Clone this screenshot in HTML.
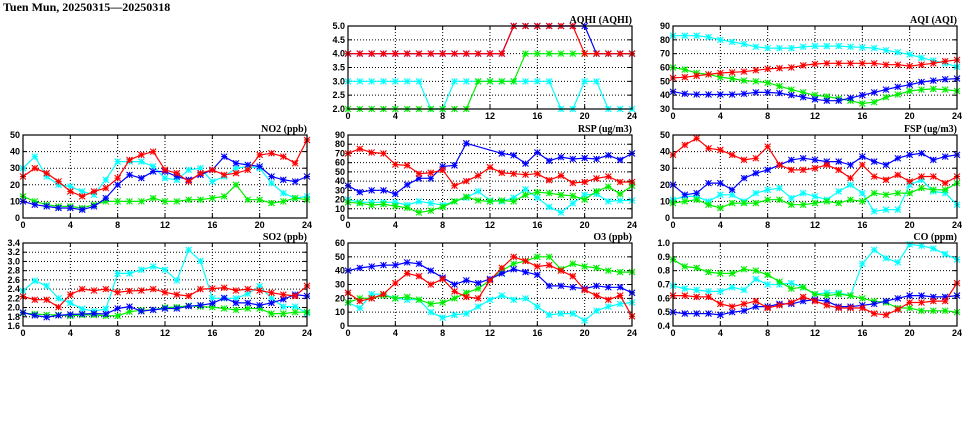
<!DOCTYPE html>
<html><head><meta charset="utf-8">
<style>
body{margin:0;background:#fff;width:975px;height:447px;overflow:hidden}
svg{display:block}
text{font-family:"Liberation Sans",sans-serif;font-weight:bold;font-size:9px;fill:#000}
</style></head>
<body>
<svg id="chart" width="975" height="447">
<text x="3" y="11" style="font-family:'Liberation Serif',serif;font-size:12px;font-weight:bold">Tuen Mun, 20250315—20250318</text>
</svg>
<script>
const hours = [0,1,2,3,4,5,6,7,8,9,10,11,12,13,14,15,16,17,18,19,20,21,22,23,24];
const xTicks = [0,4,8,12,16,20,24];

const aqhiRed   = [4,4,4,4,4,4,4,4,4,4,4,4,4,4,5,5,5,5,5,5,4,4,4,4,4];
const aqhiBlue  = [4,4,4,4,4,4,4,4,4,4,4,4,4,4,5,5,5,5,5,5,5,4,4,4,4];
const aqhiGreen = [2,2,2,2,2,2,2,2,2,2,2,3,3,3,3,4,4,4,4,4,4,4,4,4,4];
const aqhiCyan  = [3,3,3,3,3,3,3,2,2,3,3,3,3,3,3,3,3,3,2,2,3,3,2,2,2];
const aqhiTicks = [2.0,2.5,3.0,3.5,4.0,4.5,5.0];

const aqiCyan  = [83,83,83,82,80,78.5,77,75,74,74,74,75,75.5,75.5,75.5,75,74.5,74,72.5,71,69.5,67,65,63,60.5];
const aqiRed   = [52.5,53,54,55,56,56.5,57,58,59,59.5,60,61.5,62.5,63,63,63,63,63,62,62,61,62,63,64.5,65.5];
const aqiGreen = [60,58.5,56,55,53,52,50.5,50,49,46.5,44,42,40,39,37.5,36,34,35,38.5,40.5,43,44,44.5,44,43];
const aqiBlue  = [42.5,41,40.5,40.5,40.5,40.5,41,42,42,41.5,40,38.5,37,36,36,38,40,42,44,46,47.5,49.5,50.5,51.5,52];
const aqiTicks = [30,40,50,60,70,80,90];

const no2Red   = [25,30,27,22,16,13,16,18,24,35,38,40,29,27,22,27,29,26,27,29,38,39,37,33,47];
const no2Cyan  = [30,37,25,20,19,16,14,23,34,34,34,31,24,23,29,30,22,25,30,31,30,21,15,12,13];
const no2Blue  = [10,8,7,6,6,5,7,12,20,26,24,28,28,25,23,26,29,37,33,32,31,25,23,22,25];
const no2Green = [13,10,8,7,7,6,8,10,10,10,10,12,10,10,11,11,12,13,20,11,11,9,10,12,11];
const no2Ticks = [0,10,20,30,40,50];

const rspRed   = [70,75,71,70,58,57,48,49,52,35,40,46,55,49,48,47,48,41,46,38,39,43,45,39,39];
const rspBlue  = [35,28,30,30,26,36,43,43,56,57,81,null,null,70,68,59,71,62,66,64,65,64,68,63,70];
const rspCyan  = [20,17,17,17,17,14,18,16,14,18,22,29,19,18,22,31,22,12,6,16,25,26,18,19,19];
const rspGreen = [17,16,14,15,13,11,6,8,12,18,23,19,18,19,18,25,28,27,25,24,20,29,34,26,35];
const rspTicks = [0,10,20,30,40,50,60,70,80,90];

const fspRed   = [38,44,48,42,41,38,35,36,43,32,29,29,30,32,29,24,32,25,23,26,22,25,25,21,25];
const fspBlue  = [20,14,15,21,21,17,24,27,29,32,35,36,35,34,34,32,37,34,32,36,38,39,35,37,38];
const fspCyan  = [11,13,13,10,14,14,10,15,17,18,12,15,13,11,16,20,15,4,5,5,20,23,16,15,8];
const fspGreen = [9,10,11,8,6,9,9,9,11,11,8,8,9,10,9,11,10,15,14,15,15,18,17,17,21];
const fspTicks = [0,10,20,30,40,50];

const so2Cyan  = [2.36,2.58,2.47,2.2,2.1,1.97,1.92,1.97,2.74,2.74,2.82,2.89,2.82,2.59,3.25,3.01,2.2,2.2,2.2,2.3,2.46,2.2,2.02,2.02,1.88];
const so2Red   = [2.24,2.17,2.17,2.01,2.28,2.4,2.37,2.4,2.33,2.36,2.37,2.4,2.33,2.28,2.25,2.4,2.41,2.43,2.37,2.4,2.37,2.32,2.28,2.25,2.47];
const so2Blue  = [1.89,1.83,1.79,1.83,1.85,1.86,1.87,1.86,1.98,2.02,1.92,1.95,1.98,1.98,2.03,2.05,2.09,2.21,2.1,2.1,2.05,2.1,2.18,2.28,2.25];
const so2Green = [1.88,1.86,1.84,1.84,1.82,1.84,1.84,1.82,1.82,1.91,1.94,1.95,2.0,2.01,2.04,2.02,2.01,1.98,1.95,1.98,1.98,1.87,1.87,1.9,1.9];
const so2Ticks = [1.6,1.8,2.0,2.2,2.4,2.6,2.8,3.0,3.2,3.4];

const o3Blue  = [40,42,43,44,44,46,45,40,35,30,33,31,34,38,41,39,37,29,29,28,27,29,28,28,24];
const o3Red   = [24,18,20,23,31,38,36,30,34,25,21,20,33,42,50,47,43,44,40,36,26,22,19,22,7];
const o3Green = [17,20,20,22,20,21,19,16,17,20,24,27,33,40,45,47,50,50,41,45,43,42,40,39,39];
const o3Cyan  = [17,13,23,23,20,19,19,10,6,8,9,14,19,22,19,20,14,8,9,9,4,11,14,16,17];
const o3Ticks = [0,10,20,30,40,50,60];

const coCyan  = [.69,.67,.66,.65,.65,.68,.66,.74,.70,.70,.71,.68,.63,.64,.64,.62,.85,.95,.89,.86,.99,.98,.96,.92,.88];
const coGreen = [.88,.83,.82,.79,.78,.78,.81,.80,.77,.72,.67,.68,.63,.62,.63,.62,.60,.58,.57,.53,.53,.51,.51,.51,.50];
const coRed   = [.62,.62,.61,.61,.56,.54,.56,.58,.53,.55,.57,.61,.58,.55,.53,.53,.53,.49,.48,.52,.57,.57,.58,.58,.71];
const coBlue  = [.50,.49,.49,.49,.48,.50,.51,.54,.54,.56,.56,.58,.59,.58,.54,.54,.55,.56,.58,.60,.62,.62,.61,.61,.62];
const coTicks = [0.4,0.5,0.6,0.7,0.8,0.9,1.0];

const svg = document.getElementById('chart');
const NS = 'http://www.w3.org/2000/svg';
function mk(tag, attrs, parent){
  const e = document.createElementNS(NS, tag);
  for (const k in attrs) e.setAttribute(k, attrs[k]);
  (parent||svg).appendChild(e);
  return e;
}
const COL = {red:'#ff0000', blue:'#0000ff', green:'#00ee00', cyan:'#00ffff'};

function panel(key, title, x0, y0, x1, y1, ticks, dec, series){
  const g = mk('g', {});
  
  
  const ymin = ticks[0], ymax = ticks[ticks.length-1];
  const sx = v => x0 + (v - 0) / 24 * (x1 - x0);
  const sy = v => y1 - (v - ymin) / (ymax - ymin) * (y1 - y0);
  ticks.forEach((t,i) => {
    const y = sy(t);
    if (i>0 && i<ticks.length-1){
      const l = mk('line', {x1:x0, x2:x1, y1:y, y2:y, stroke:'#000', 'stroke-width':1, 'stroke-dasharray':'1,2'}, g);
      
      
    }
    mk('line', {x1:x0, x2:x0+4, y1:y, y2:y, stroke:'#000'}, g);
    mk('line', {x1:x1-4, x2:x1, y1:y, y2:y, stroke:'#000'}, g);
    const tx = mk('text', {x:x0-3, y:y+3, 'text-anchor':'end'}, g);
    tx.textContent = t.toFixed(dec);
    
    
  });
  xTicks.forEach((t,i) => {
    const x = sx(t);
    if (i>0 && i<xTicks.length-1){
      const l = mk('line', {x1:x, x2:x, y1:y0, y2:y1, stroke:'#000', 'stroke-width':1, 'stroke-dasharray':'1,2'}, g);
      
      
    }
    mk('line', {x1:x, x2:x, y1:y1, y2:y1-4, stroke:'#000'}, g);
    mk('line', {x1:x, x2:x, y1:y0, y2:y0+4, stroke:'#000'}, g);
    const tx = mk('text', {x:x, y:y1+10, 'text-anchor':'middle'}, g);
    tx.textContent = t;
    
    
  });
  series.forEach(([name, vals]) => {
    const sg = mk('g', {}, g);
    
    
    let d = '';
    vals.forEach((v,i) => {
      if (v === null) return;
      d += (d ? 'L' : 'M') + sx(hours[i]).toFixed(1) + ',' + sy(v).toFixed(1);
    });
    mk('path', {d:d, fill:'none', stroke:COL[name], 'stroke-width':1.2}, sg);
    vals.forEach((v,i) => {
      if (v === null) return;
      const cx = sx(hours[i]), cy = sy(v), r = 3;
      const m = mk('path', {d:`M${cx-r},${cy}H${cx+r}M${cx},${cy-r}V${cy+r}M${cx-r},${cy-r}L${cx+r},${cy+r}M${cx-r},${cy+r}L${cx+r},${cy-r}`, fill:'none', stroke:COL[name], 'stroke-width':1.1}, sg);
      
      
    });
  });
  const fr = mk('rect', {x:x0, y:y0, width:x1-x0, height:y1-y0, fill:'none', stroke:'#000', 'stroke-width':1.2}, g);
  
  
  const tt = mk('text', {x:x1, y:y0-3, 'text-anchor':'end', style:"font-family:'Liberation Serif',serif;font-size:10px"}, g);
  tt.textContent = title;
  
  
}

panel('aqhi','AQHI (AQHI)',348,26,632,109,aqhiTicks,1,[['cyan',aqhiCyan],['green',aqhiGreen],['blue',aqhiBlue],['red',aqhiRed]]);
panel('aqi','AQI (AQI)',673,26,957,109,aqiTicks,0,[['cyan',aqiCyan],['green',aqiGreen],['blue',aqiBlue],['red',aqiRed]]);
panel('no2','NO2 (ppb)',23,135,307,218,no2Ticks,0,[['cyan',no2Cyan],['green',no2Green],['blue',no2Blue],['red',no2Red]]);
panel('rsp','RSP (ug/m3)',348,135,632,218,rspTicks,0,[['cyan',rspCyan],['green',rspGreen],['blue',rspBlue],['red',rspRed]]);
panel('fsp','FSP (ug/m3)',673,135,957,218,fspTicks,0,[['cyan',fspCyan],['green',fspGreen],['blue',fspBlue],['red',fspRed]]);
panel('so2','SO2 (ppb)',23,243,307,326,so2Ticks,1,[['cyan',so2Cyan],['green',so2Green],['blue',so2Blue],['red',so2Red]]);
panel('o3','O3 (ppb)',348,243,632,326,o3Ticks,0,[['cyan',o3Cyan],['green',o3Green],['blue',o3Blue],['red',o3Red]]);
panel('co','CO (ppm)',673,243,957,326,coTicks,1,[['cyan',coCyan],['green',coGreen],['blue',coBlue],['red',coRed]]);
</script>
</body></html>
